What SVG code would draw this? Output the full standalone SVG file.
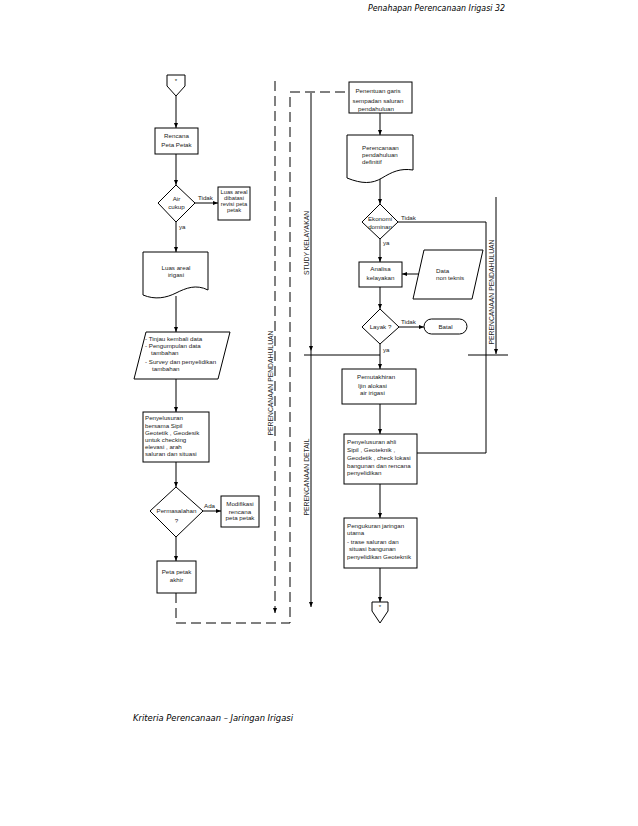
<svg xmlns="http://www.w3.org/2000/svg" width="638" height="826" viewBox="0 0 638 826">
<style>
.s{fill:#fff;stroke:#000;stroke-width:1}
.l{fill:none;stroke:#000;stroke-width:1}
.d{fill:none;stroke:#000;stroke-width:1;stroke-dasharray:10 5}
.t{font-family:"Liberation Sans",Arial,sans-serif;font-size:6.2px;fill:#222}
.sm{font-size:5.8px}
.c{text-anchor:middle}
.v{font-family:"Liberation Sans",Arial,sans-serif;font-size:6.8px;fill:#222;text-anchor:middle}
.h{font-family:"DejaVu Sans",Verdana,sans-serif;font-style:italic;font-size:8px;fill:#000}
</style>
<defs>
<marker id="a" markerWidth="5" markerHeight="4" refX="5" refY="2" orient="auto" markerUnits="userSpaceOnUse">
<path d="M0,0 L5,2 L0,4 Z" fill="#000"/>
</marker>
</defs>
<rect width="638" height="826" fill="#fff"/>
<text class="h" x="505" y="11" text-anchor="end" textLength="137" lengthAdjust="spacingAndGlyphs">Penahapan Perencanaan Irigasi 32</text>
<text class="h" x="133" y="721" textLength="160" lengthAdjust="spacingAndGlyphs">Kriteria Perencanaan – Jaringan Irigasi</text>

<g id="connectors">
<path class="l" d="M176,96 V128" marker-end="url(#a)"/>
<path class="l" d="M176,154 V185" marker-end="url(#a)"/>
<path class="l" d="M195,203 H218" marker-end="url(#a)"/>
<path class="l" d="M176,222 V252" marker-end="url(#a)"/>
<path class="l" d="M176,296 V332" marker-end="url(#a)"/>
<path class="l" d="M176,379 V412" marker-end="url(#a)"/>
<path class="l" d="M176,462 V487" marker-end="url(#a)"/>
<path class="l" d="M203,511 H221" marker-end="url(#a)"/>
<path class="l" d="M176,537 V561" marker-end="url(#a)"/>
<path class="d" d="M176,593 V623 H290 V92 H349"/>
<path class="d" d="M275,81 V613" marker-end="url(#a)"/>
<path class="l" d="M311,93 V351" marker-end="url(#a)"/>
<path class="l" d="M311,351 V607" marker-end="url(#a)"/>
<path class="l" d="M304,355 H380"/>
<path class="l" d="M468,355 H508"/>
<path class="l" d="M496,197 V354" marker-end="url(#a)"/>
<path class="l" d="M380,113 V135" marker-end="url(#a)"/>
<path class="l" d="M380,178 V204" marker-end="url(#a)"/>
<path class="l" d="M398,222 H486 V453 H417"/>
<path class="l" d="M380,239 V262" marker-end="url(#a)"/>
<path class="l" d="M421,274 H402" marker-end="url(#a)"/>
<path class="l" d="M380,287 V309" marker-end="url(#a)"/>
<path class="l" d="M399,327 H424" marker-end="url(#a)"/>
<path class="l" d="M380,344 V369" marker-end="url(#a)"/>
<path class="l" d="M380,404 V434" marker-end="url(#a)"/>
<path class="l" d="M380,484 V518" marker-end="url(#a)"/>
<path class="l" d="M380,568 V602" marker-end="url(#a)"/>
<text class="t" x="198" y="200">Tidak</text>
<text class="t" x="179" y="229">ya</text>
<text class="t" x="204" y="508">Ada</text>
<text class="t" x="401" y="220">Tidak</text>
<text class="t" x="383" y="245">ya</text>
<text class="t" x="401" y="324">Tidak</text>
<text class="t" x="383" y="352">ya</text>
<text class="v" transform="translate(273,383) rotate(-90)">PERENCANAAN PENDAHULUAN</text>
<text class="v" transform="translate(308.5,243) rotate(-90)">STUDY KELAYAKAN</text>
<text class="v" transform="translate(308.5,477) rotate(-90)">PERENCANAAN DETAIL</text>
<text class="v" transform="translate(493.5,292) rotate(-90)">PERENCANAAN PENDAHULUAN</text>
</g>

<g id="start">
<path class="s" d="M167,75 H185 V86 L176,96 L167,86 Z"/>
<text class="t c" x="176" y="83">*</text>
</g>
<g id="rencana">
<rect class="s" x="155" y="128" width="43" height="26"/>
<text class="t c" x="176.5" y="138">Rencana</text>
<text class="t c" x="176.5" y="147">Peta Petak</text>
</g>
<g id="air">
<path class="s" d="M176,185 L195,203 L176,222 L158,203 Z"/>
<text class="t c" x="176.5" y="201">Air</text>
<text class="t c" x="176.5" y="209">cukup</text>
</g>
<g id="luas-dibatasi">
<rect class="s" x="218" y="187" width="32" height="33"/>
<text class="t sm c" x="234" y="194">Luas areal</text>
<text class="t sm c" x="234" y="200">dibatasi</text>
<text class="t sm c" x="234" y="206">revisi peta</text>
<text class="t sm c" x="234" y="212">petak</text>
</g>
<g id="luas-irigasi">
<path class="s" d="M143,252 H208 V290 C196,284 186,288 176,293 S155,300 143,295 Z"/>
<text class="t c" x="176" y="270">Luas areal</text>
<text class="t c" x="176" y="277">irigasi</text>
</g>
<g id="tinjau">
<path class="s" d="M146,332 H230 L218,379 H134 Z"/>
<text class="t" x="145" y="341">- Tinjau kembali data</text>
<text class="t" x="145" y="348">- Pengumpulan data</text>
<text class="t" x="151" y="355">tambahan</text>
<text class="t" x="145" y="364">- Survey dan penyelidikan</text>
<text class="t" x="152" y="371">tambahan</text>
</g>
<g id="penyelusuran">
<rect class="s" x="143" y="412" width="66" height="50"/>
<text class="t" x="145" y="420">Penyelusuran</text>
<text class="t" x="145" y="428">bersama Sipil</text>
<text class="t" x="145" y="435">Geotetik , Geodesik</text>
<text class="t" x="145" y="442">untuk checking</text>
<text class="t" x="145" y="449">elevasi , arah</text>
<text class="t" x="145" y="456">saluran dan situasi</text>
</g>
<g id="permasalahan">
<path class="s" d="M176,487 L203,511 L176,537 L150,511 Z"/>
<text class="t c" x="176.5" y="513">Permasalahan</text>
<text class="t c" x="176.5" y="523">?</text>
</g>
<g id="modifikasi">
<rect class="s" x="221" y="496" width="38" height="31"/>
<text class="t c" x="240" y="506">Modifikasi</text>
<text class="t c" x="240" y="514">rencana</text>
<text class="t c" x="240" y="520">peta petak</text>
</g>
<g id="peta-akhir">
<rect class="s" x="157" y="561" width="39" height="32"/>
<text class="t c" x="176.5" y="574">Peta petak</text>
<text class="t c" x="176.5" y="582">akhir</text>
</g>

<g id="penentuan">
<rect class="s" x="349" y="82" width="63" height="31"/>
<text class="t c" x="378" y="93">Penentuan garis</text>
<text class="t c" x="378" y="103">sempadan saluran</text>
<text class="t c" x="376" y="111">pendahuluan</text>
</g>
<g id="perencanaan-definitif">
<path class="s" d="M347,135 H413 V170 C400,168 392,172 382,178 S362,184 347,178 Z"/>
<text class="t" x="362" y="150">Perencanaan</text>
<text class="t" x="362" y="157">pendahuluan</text>
<text class="t" x="362" y="164">definitif</text>
</g>
<g id="ekonomi">
<path class="s" d="M380,204 L398,222 L380,239 L362,222 Z"/>
<text class="t c" x="380" y="221">Ekonomi</text>
<text class="t c" x="380" y="229">dominan</text>
</g>
<g id="analisa">
<rect class="s" x="359" y="262" width="43" height="25"/>
<text class="t c" x="380.5" y="271">Analisa</text>
<text class="t c" x="380.5" y="280">kelayakan</text>
</g>
<g id="data-non-teknis">
<path class="s" d="M424,250 H483 L472,299 H413 Z"/>
<text class="t" x="436" y="273">Data</text>
<text class="t" x="436" y="280">non teknis</text>
</g>
<g id="layak">
<path class="s" d="M380,309 L399,327 L380,344 L362,327 Z"/>
<text class="t c" x="380.5" y="329">Layak ?</text>
</g>
<g id="batal">
<rect class="s" x="424" y="319" width="43" height="15" rx="7.5"/>
<text class="t c" x="445.5" y="329">Batal</text>
</g>
<g id="pemutakhiran">
<rect class="s" x="342" y="369" width="74" height="35"/>
<text class="t" x="357" y="379">Pemutakhiran</text>
<text class="t" x="358" y="388">Ijin alokasi</text>
<text class="t" x="360" y="395">air irigasi</text>
</g>
<g id="penyelusuran-ahli">
<rect class="s" x="344" y="434" width="73" height="50"/>
<text class="t" x="347" y="444">Penyelusuran ahli</text>
<text class="t" x="347" y="452">Sipil , Geoteknik ,</text>
<text class="t" x="347" y="460">Geodetik , check lokasi</text>
<text class="t" x="347" y="468">bangunan dan rencana</text>
<text class="t" x="347" y="475">penyelidikan</text>
</g>
<g id="pengukuran">
<rect class="s" x="344" y="518" width="73" height="50"/>
<text class="t" x="347" y="528">Pengukuran jaringan</text>
<text class="t" x="347" y="535">utama</text>
<text class="t" x="347" y="544">- trase saluran dan</text>
<text class="t" x="349" y="551">situasi bangunan</text>
<text class="t" x="347" y="559">penyelidikan Geoteknik</text>
</g>
<g id="end">
<path class="s" d="M372,602 H388 V611 L380,623 L372,611 Z"/>
<text class="t c" x="380" y="609">*</text>
</g>
</svg>
